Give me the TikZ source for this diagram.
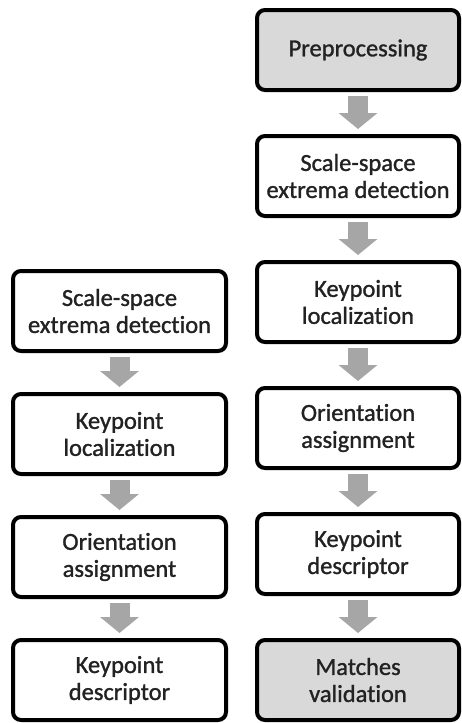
\documentclass[tikz,border=0pt]{standalone}
\usepackage{fontspec}
\setmainfont{Carlito}
\newfontfamily\stepfont{Carlito}[FakeBold=1.2,Ligatures=NoCommon]
\usetikzlibrary{arrows.meta,positioning}
\definecolor{StepFill}{HTML}{D9D9D9}
\definecolor{FlowGray}{HTML}{A6A6A6}
\definecolor{StepText}{HTML}{222222}

\begin{document}
\begin{tikzpicture}[x=1pt,y=1pt,
    stepbox/.style={draw=black,line width=4pt,rounded corners=8pt,fill=white,
      minimum height=80pt,align=center,text=StepText,
      font=\stepfont\fontsize{24.5}{27}\selectfont},
    rightbox/.style={stepbox,minimum width=202pt},
    leftbox/.style={stepbox,minimum width=213pt},
    shaded/.style={fill=StepFill},
    flowarrow/.style={-{Triangle[width=38pt,length=16pt]},line width=20pt,
      draw=FlowGray,shorten <=4pt,shorten >=5pt}
  ]
    \useasboundingbox (0,0) rectangle (462,-723);
    % right column
    \node[rightbox,shaded] (prep) at (358,-50) {Preprocessing};
    \node[rightbox,below=42pt of prep] (scaleR) {Scale-space\\extrema detection};
    \node[rightbox,below=42pt of scaleR] (locR) {Keypoint\\localization};
    \node[rightbox,below=42pt of locR] (orientR) {Orientation\\assignment};
    \node[rightbox,below=42pt of orientR] (descR) {Keypoint\\descriptor};
    \node[rightbox,shaded,below=42pt of descR] (match) {Matches\\validation};
    % left column
    \node[leftbox] (scaleL) at (119.5,-311) {Scale-space\\extrema detection};
    \node[leftbox,below=39pt of scaleL] (locL) {Keypoint\\localization};
    \node[leftbox,below=39pt of locL] (orientL) {Orientation\\assignment};
    \node[leftbox,below=39pt of orientL] (descL) {Keypoint\\descriptor};
    \draw[flowarrow] (prep.south) -- (scaleR.north);
    \draw[flowarrow] (scaleR.south) -- (locR.north);
    \draw[flowarrow] (locR.south) -- (orientR.north);
    \draw[flowarrow] (orientR.south) -- (descR.north);
    \draw[flowarrow] (descR.south) -- (match.north);
    \draw[flowarrow] (scaleL.south) -- (locL.north);
    \draw[flowarrow] (locL.south) -- (orientL.north);
    \draw[flowarrow] (orientL.south) -- (descL.north);
  \end{tikzpicture}
\end{document}
